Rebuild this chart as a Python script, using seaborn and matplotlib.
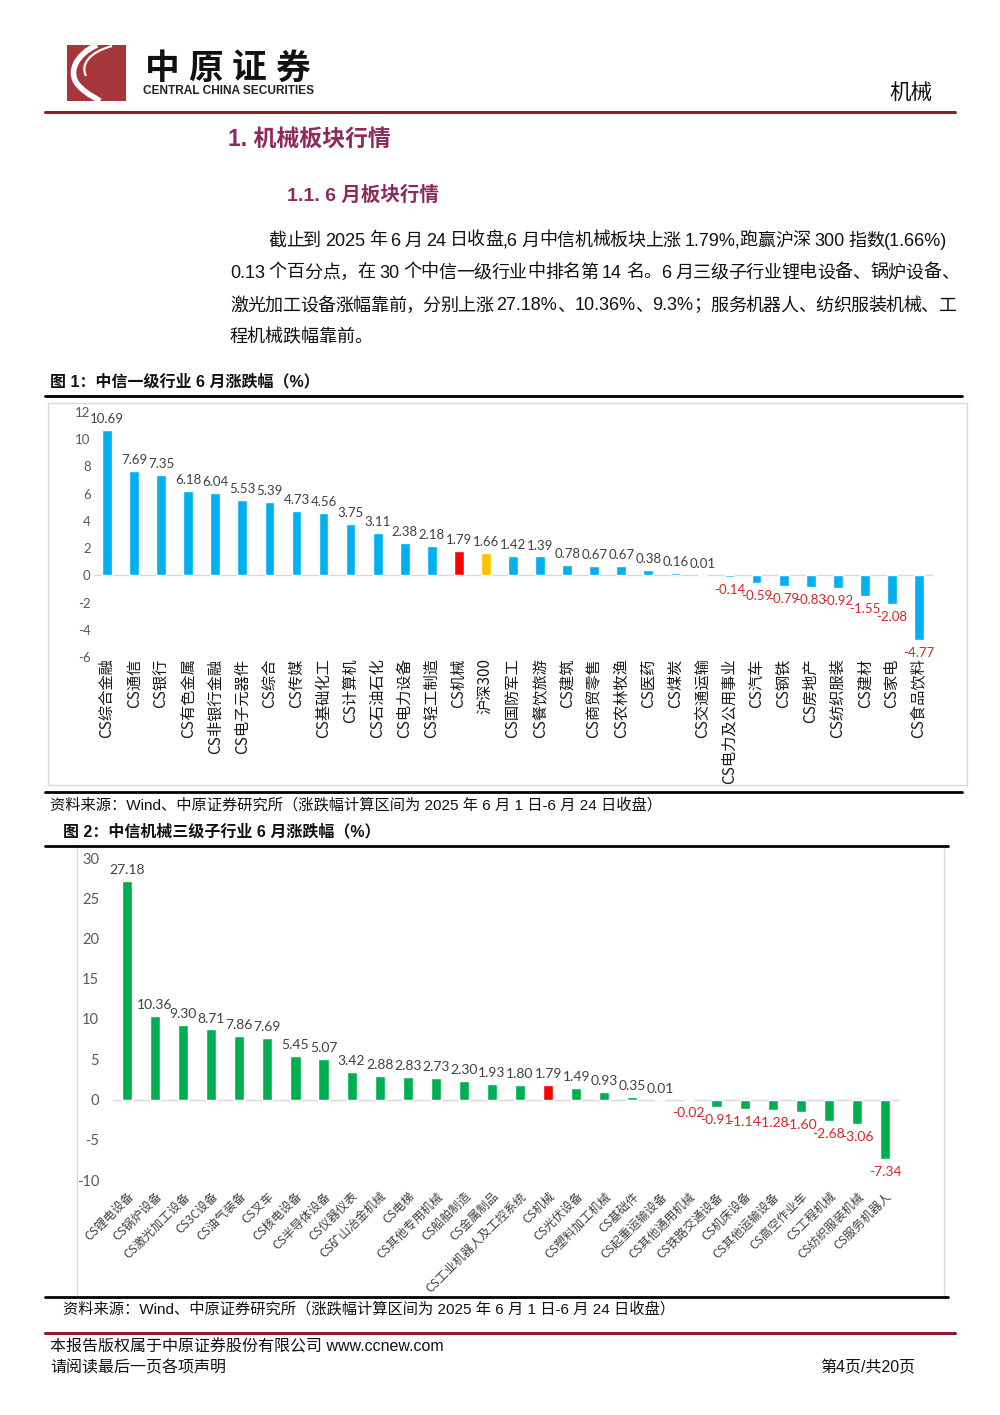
import re
import numpy as np
import pandas as pd
import matplotlib.pyplot as plt
import seaborn as sns
from matplotlib.patches import Rectangle, PathPatch
from matplotlib.path import Path
from matplotlib.lines import Line2D

# chart 1: CITIC level-1 industries, June change (%)
ind_names = ['CS综合金融', 'CS通信', 'CS银行', 'CS有色金属', 'CS非银行金融', 'CS电子元器件',
             'CS综合', 'CS传媒', 'CS基础化工', 'CS计算机', 'CS石油石化', 'CS电力设备',
             'CS轻工制造', 'CS机械', '沪深300', 'CS国防军工', 'CS餐饮旅游', 'CS建筑',
             'CS商贸零售', 'CS农林牧渔', 'CS医药', 'CS煤炭', 'CS交通运输', 'CS电力及公用事业',
             'CS汽车', 'CS钢铁', 'CS房地产', 'CS纺织服装', 'CS建材', 'CS家电', 'CS食品饮料']
ind_values = [10.69, 7.69, 7.35, 6.18, 6.04, 5.53, 5.39, 4.73, 4.56, 3.75, 3.11, 2.38,
              2.18, 1.79, 1.66, 1.42, 1.39, 0.78, 0.67, 0.67, 0.38, 0.16, 0.01, -0.14,
              -0.59, -0.79, -0.83, -0.92, -1.55, -2.08, -4.77]
ind_yticks = [-6, -4, -2, 0, 2, 4, 6, 8, 10, 12]

# chart 2: machinery level-3 sub industries, June change (%)
sub_names = ['CS锂电设备', 'CS锅炉设备', 'CS激光加工设备', 'CS3C设备', 'CS油气装备', 'CS叉车',
             'CS核电设备', 'CS半导体设备', 'CS仪器仪表', 'CS矿山冶金机械', 'CS电梯',
             'CS其他专用机械', 'CS船舶制造', 'CS金属制品', 'CS工业机器人及工控系统', 'CS机械',
             'CS光伏设备', 'CS塑料加工机械', 'CS基础件', 'CS起重运输设备', 'CS其他通用机械',
             'CS铁路交通设备', 'CS机床设备', 'CS其他运输设备', 'CS高空作业车', 'CS工程机械',
             'CS纺织服装机械', 'CS服务机器人']
sub_values = [27.18, 10.36, 9.30, 8.71, 7.86, 7.69, 5.45, 5.07, 3.42, 2.88, 2.83, 2.73,
              2.30, 1.93, 1.80, 1.79, 1.49, 0.93, 0.35, 0.01, -0.02, -0.91, -1.14, -1.28,
              -1.60, -2.68, -3.06, -7.34]
sub_yticks = [-10, -5, 0, 5, 10, 15, 20, 25, 30]

para_lines = [
    '截止到 2025 年 6 月 24 日收盘,6 月中信机械板块上涨 1.79%,跑赢沪深 300 指数(1.66%)',
    '0.13 个百分点，在 30 个中信一级行业中排名第 14 名。6 月三级子行业锂电设备、锅炉设备、',
    '激光加工设备涨幅靠前，分别上涨 27.18%、10.36%、9.3%；服务机器人、纺织服装机械、工',
    '程机械跌幅靠前。',
]
source_text = '资料来源：Wind、中原证券研究所（涨跌幅计算区间为 2025 年 6 月 1 日-6 月 24 日收盘）'

W, H = 1000, 1415
sns.set_theme(style='white')
plt.rcParams['font.family'] = ['Liberation Sans', 'Noto Sans CJK SC', 'DejaVu Sans']
plt.rcParams['axes.unicode_minus'] = False

fig = plt.figure(figsize=(W / 100, H / 100), dpi=100)
fig.patch.set_facecolor('white')
renderer = fig.canvas.get_renderer()

DARKRED = '#8E1F2A'
HEAD = '#8C2A5C'
NEG = '#D7262B'
NUM_FONT = ['Lato', 'DejaVu Sans']
CJK = ['Noto Sans CJK SC', 'DejaVu Sans']


def fx(x):
    return x / W


def fy(y):
    return 1 - y / H


def hline(y, x0, x1, color='black', lw=2):
    fig.add_artist(Line2D([fx(x0), fx(x1)], [fy(y), fy(y)], color=color, lw=lw))


def vline(x, y0, y1, color='#D9D9D9', lw=1):
    fig.add_artist(Line2D([fx(x), fx(x)], [fy(y0), fy(y1)], color=color, lw=lw))


def text(x, y, s, **kw):
    kw.setdefault('va', 'center')
    return fig.text(fx(x), fy(y), s, **kw)


def width_px(s, **kw):
    t = fig.text(0, 0, s, **kw)
    w = t.get_window_extent(renderer).width
    t.remove()
    return w


def advance(s, **kw):
    return width_px('囗' + s + '囗', **kw) - width_px('囗囗', **kw)


def justified(s, x0, x1, y, space=4.0, **kw):
    # tokens: ascii runs, single cjk chars, and spaces (kept as wider gaps)
    parts = re.findall(r'[\x21-\x7e]+|\s|[^\s]', s)
    tokens, extra = [], []
    pending = 0.0
    for p in parts:
        if p.isspace():
            pending += space
            continue
        if tokens:
            extra.append(pending)
        tokens.append(p)
        pending = 0.0
    ws = [advance(t, **kw) for t in tokens]
    gap = (x1 - x0 - sum(ws) - sum(extra)) / (len(tokens) - 1)
    x = x0
    for i, (t, w) in enumerate(zip(tokens, ws)):
        text(x, y, t, ha='left', **kw)
        if i < len(extra):
            x += w + gap + extra[i]


# ---------------- header ----------------
fig.add_artist(Rectangle((fx(67), fy(101)), fx(126) - fx(67), fy(45) - fy(101),
                         transform=fig.transFigure, facecolor='#A6363C', edgecolor='none'))
pts = [(97, 45), (76, 54), (66, 74), (80, 87), (88, 95), (96, 98), (100, 101)]
codes = [Path.MOVETO] + [Path.CURVE4] * 6
fig.add_artist(PathPatch(Path([(fx(a), fy(b)) for a, b in pts], codes),
                         transform=fig.transFigure, facecolor='none', edgecolor='white', lw=4))
pts2 = [(112, 46), (90, 52), (80, 64), (86, 76)]
fig.add_artist(PathPatch(Path([(fx(a), fy(b)) for a, b in pts2],
                              [Path.MOVETO] + [Path.CURVE4] * 3),
                         transform=fig.transFigure, facecolor='none', edgecolor='white', lw=1.6))
for i, ch in enumerate('中原证券'):
    text(162 + i * 43.5, 68, ch, ha='center', fontsize=25, weight='bold', family=CJK, color='#111111')
text(143, 91, 'CENTRAL CHINA SECURITIES', ha='left', fontsize=8.6, weight='bold',
     family=['Liberation Sans Narrow', 'Liberation Sans'], color='#222222')
text(932, 93, '机械', ha='right', fontsize=15.5, family=CJK, color='#111111')
hline(112, 45, 955, DARKRED, 2.2)

# ---------------- headings and paragraph ----------------
text(228, 139, '1. 机械板块行情', ha='left', fontsize=16.5, weight='bold', color=HEAD)
text(287, 195, '1.1. 6 月板块行情', ha='left', fontsize=14, weight='bold', color=HEAD)
para_kw = dict(fontsize=13, color='#111111')
justified(para_lines[0], 268, 947, 241, **para_kw)
justified(para_lines[1], 230, 959, 273, **para_kw)
justified(para_lines[2], 230, 956, 306, **para_kw)
text(230, 338, para_lines[3], ha='left', **para_kw)

# ---------------- figure 1 ----------------
text(50, 382, '图 1：中信一级行业 6 月涨跌幅（%）', ha='left', fontsize=11.5, weight='bold', color='#111111')
hline(396, 45, 962, 'black', 2)
fig.add_artist(Rectangle((fx(48), fy(785)), fx(967) - fx(48), fy(403) - fy(785),
                         transform=fig.transFigure, facecolor='none', edgecolor='#D9D9D9', lw=1))

ax1 = fig.add_axes([fx(93.5), fy(657), (932.5 - 93.5) / W, (657 - 412) / H])
ax1.patch.set_alpha(0)
colors1 = ['#FF0000' if n == 'CS机械' else '#FFC000' if n == '沪深300' else '#00B0F0'
           for n in ind_names]
df1 = pd.DataFrame({'name': ind_names, 'value': ind_values})
sns.barplot(data=df1, x='name', y='value', hue='name', palette=colors1, saturation=1,
            width=0.36, legend=False, ax=ax1)
ax1.axhline(0, color='#D9D9D9', lw=1, zorder=0)
ax1.set_xlim(-0.5, len(ind_names) - 0.5)
ax1.set_ylim(min(ind_yticks), max(ind_yticks))
ax1.set_yticks(ind_yticks)
ax1.set_yticklabels([str(t) for t in ind_yticks], fontsize=9.5, color='#595959', family=NUM_FONT)
ax1.set_xticks(range(len(ind_names)))
ax1.set_xticklabels(ind_names, rotation=90, va='top', ha='center', fontsize=11,
                    family=CJK, weight='medium', color='#1A1A1A')
ax1.tick_params(axis='both', length=0)
ax1.tick_params(axis='x', pad=1)
ax1.tick_params(axis='y', pad=2)
ax1.set_xlabel('')
ax1.set_ylabel('')
sns.despine(ax=ax1, left=True, bottom=True)
for i, v in enumerate(ind_values):
    if v >= 0:
        ax1.annotate(f'{v:.2f}', (i, v), xytext=(0, 3.5), textcoords='offset points',
                     ha='center', va='bottom', fontsize=9.5, color='#404040', family=NUM_FONT)
    else:
        ax1.annotate(f'{v:.2f}', (i, v), xytext=(0, -5), textcoords='offset points',
                     ha='center', va='top', fontsize=9.5, color=NEG, family=NUM_FONT)

hline(792, 45, 962, 'black', 2)
text(50, 805, source_text, ha='left', fontsize=11, color='#111111')

# ---------------- figure 2 ----------------
text(63, 832, '图 2：中信机械三级子行业 6 月涨跌幅（%）', ha='left', fontsize=11.5, weight='bold', color='#111111')
hline(846, 45, 948, 'black', 2)
vline(77, 848, 1295)
vline(944, 848, 1295)

ax2 = fig.add_axes([fx(113), fy(1180), (899 - 113) / W, (1180 - 858) / H])
ax2.patch.set_alpha(0)
colors2 = ['#FF0000' if n == 'CS机械' else '#00B050' for n in sub_names]
df2 = pd.DataFrame({'name': sub_names, 'value': sub_values})
sns.barplot(data=df2, x='name', y='value', hue='name', palette=colors2, saturation=1,
            width=0.36, legend=False, ax=ax2)
ax2.axhline(0, color='#D9D9D9', lw=1, zorder=0)
ax2.set_xlim(-0.5, len(sub_names) - 0.5)
ax2.set_ylim(min(sub_yticks), max(sub_yticks))
ax2.set_yticks(sub_yticks)
ax2.set_yticklabels([str(t) for t in sub_yticks], fontsize=10.5, color='#595959', family=NUM_FONT)
ax2.set_xticks(range(len(sub_names)))
ax2.set_xticklabels(sub_names, rotation=45, ha='right', va='top', rotation_mode='anchor',
                    fontsize=8.7, family=CJK, color='#404040')
ax2.tick_params(axis='both', length=0)
ax2.tick_params(axis='x', pad=7)
ax2.tick_params(axis='y', pad=10)
ax2.set_xlabel('')
ax2.set_ylabel('')
sns.despine(ax=ax2, left=True, bottom=True)
for i, v in enumerate(sub_values):
    if v >= 0:
        ax2.annotate(f'{v:.2f}', (i, v), xytext=(0, 3.5), textcoords='offset points',
                     ha='center', va='bottom', fontsize=10, color='#404040', family=NUM_FONT)
    else:
        ax2.annotate(f'{v:.2f}', (i, v), xytext=(0, -5), textcoords='offset points',
                     ha='center', va='top', fontsize=10, color=NEG, family=NUM_FONT)

hline(1297, 45, 948, 'black', 2)
text(63, 1309, source_text, ha='left', fontsize=11, color='#111111')

# ---------------- footer ----------------
hline(1333, 45, 955, DARKRED, 2.2)
text(50, 1347, '本报告版权属于中原证券股份有限公司 www.ccnew.com', ha='left', fontsize=11.5, color='#111111')
text(50, 1368, '请阅读最后一页各项声明', ha='left', fontsize=11.5, color='#111111')
text(915, 1368, '第4页/共20页', ha='right', fontsize=11.5, color='#111111')

fig.savefig('out.png', dpi=100, facecolor='white')
